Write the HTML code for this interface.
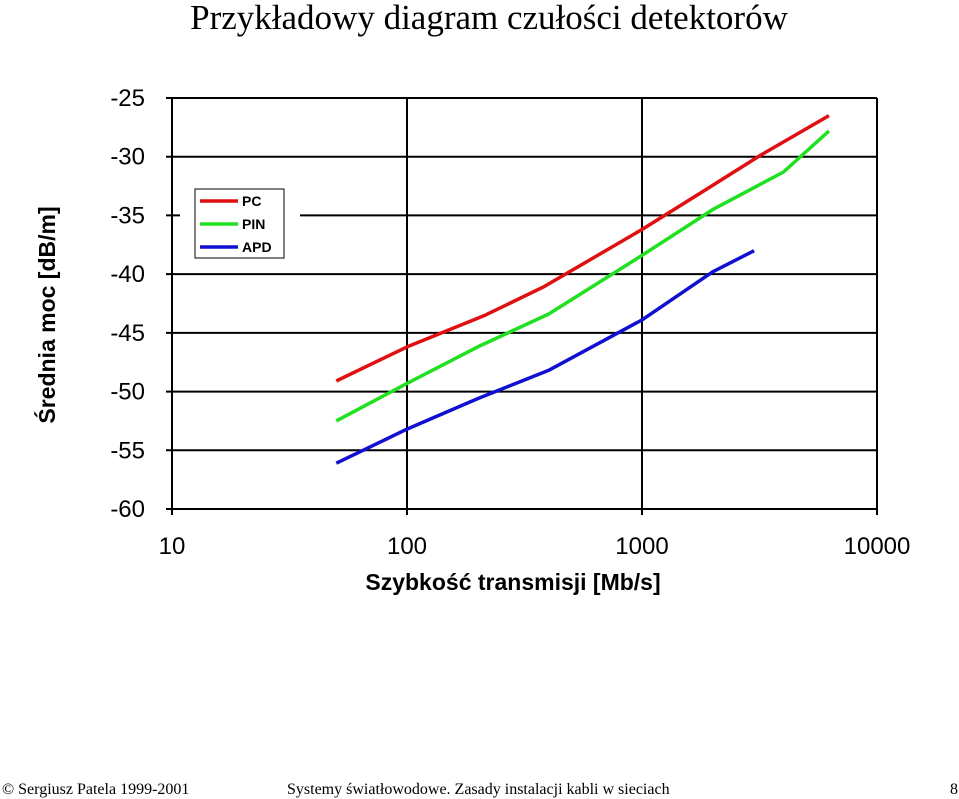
<!DOCTYPE html>
<html><head><meta charset="utf-8"><style>
body{margin:0;width:959px;height:799px;background:#fff;overflow:hidden}
svg{display:block}
</style></head><body>
<svg width="959" height="799">
<text x="489" y="29" text-anchor="middle" font-family="Liberation Serif, serif" font-size="35">Przykładowy diagram czułości detektorów</text>
<g id="grid"></g>
<g id="series"></g>
<g id="legend">
<rect x="180" y="180" width="120" height="85" fill="#fff" stroke="none"/>
<rect x="195" y="189" width="89" height="69" fill="#fff" stroke="#000" stroke-width="1"/>
</g>
<text transform="translate(55,315) rotate(-90)" text-anchor="middle" font-family="Liberation Sans, sans-serif" font-weight="bold" font-size="23">Średnia moc [dB/m]</text>
<text x="513" y="590" text-anchor="middle" font-family="Liberation Sans, sans-serif" font-weight="bold" font-size="23">Szybkość transmisji [Mb/s]</text>
<text x="2" y="794" font-family="Liberation Serif, serif" font-size="16">© Sergiusz Patela 1999-2001</text>
<text x="287" y="794" font-family="Liberation Serif, serif" font-size="16">Systemy światłowodowe. Zasady instalacji kabli w sieciach</text>
<text x="950" y="794" font-family="Liberation Serif, serif" font-size="16">8</text>
</svg>
<script>
const xTicks=[10,100,1000,10000];
const xTickLabels=["10","100","1000","10000"];
const yTicks=[-25,-30,-35,-40,-45,-50,-55,-60];
const yTickLabels=["-25","-30","-35","-40","-45","-50","-55","-60"];
const seriesNames=["PC","PIN","APD"];
const pcX=[50,100,215,380,1000,1770,3180,6250];
const pcY=[-49.1,-46.2,-43.5,-41.1,-36.2,-33.1,-29.9,-26.5];
const pinX=[50,100,200,400,1000,2000,4000,6250];
const pinY=[-52.5,-49.3,-46.2,-43.4,-38.4,-34.5,-31.3,-27.8];
const apdX=[50,100,200,400,1000,2000,3000];
const apdY=[-56.1,-53.2,-50.6,-48.2,-43.9,-39.8,-38.0];
const L=172,R=877,T=98,B=509;
function xs(v){return L+(Math.log10(v)-1)/3*(R-L);}
function ys(v){return T+(-25-v)/35*(B-T);}
const NS="http://www.w3.org/2000/svg";
function mk(tag,attrs,parent){const e=document.createElementNS(NS,tag);for(const k in attrs)e.setAttribute(k,attrs[k]);parent.appendChild(e);return e;}
const grid=document.getElementById('grid');
yTicks.forEach((v,i)=>{
  const y=ys(v);
  const ln=mk('line',{x1:L-6,x2:R,y1:y,y2:y,stroke:'#000','stroke-width':2},grid);
  
  
  const t=mk('text',{x:145,y:y+8,'text-anchor':'end','font-family':'Liberation Sans, sans-serif','font-size':24},grid);
  t.textContent=yTickLabels[i];
  
  
});
xTicks.forEach((v,i)=>{
  const x=xs(v);
  const ln=mk('line',{x1:x,x2:x,y1:T,y2:B+6,stroke:'#000','stroke-width':2},grid);
  
  
  const t=mk('text',{x:x,y:554,'text-anchor':'middle','font-family':'Liberation Sans, sans-serif','font-size':24},grid);
  t.textContent=xTickLabels[i];
  
  
});
const sg=document.getElementById('series');
const cols=['#e01010','#20e020','#1010d0'];
[[pcX,pcY],[pinX,pinY],[apdX,apdY]].forEach((s,i)=>{
  const pts=s[0].map((x,j)=>xs(x).toFixed(1)+','+ys(s[1][j]).toFixed(1)).join(' ');
  const p=mk('polyline',{points:pts,fill:'none',stroke:cols[i],'stroke-width':3.5,'stroke-linejoin':'round'},sg);
  
  
});
const lg=document.getElementById('legend');
seriesNames.forEach((n,i)=>{
  const y=201+i*23;
  const l=mk('line',{x1:200,x2:238,y1:y,y2:y,stroke:cols[i],'stroke-width':3.5},lg);
  
  
  const t=mk('text',{x:242,y:y+5,'font-family':'Liberation Sans, sans-serif','font-size':14,'font-weight':'bold'},lg);
  t.textContent=n;
  
  
});
</script>
</body></html>
